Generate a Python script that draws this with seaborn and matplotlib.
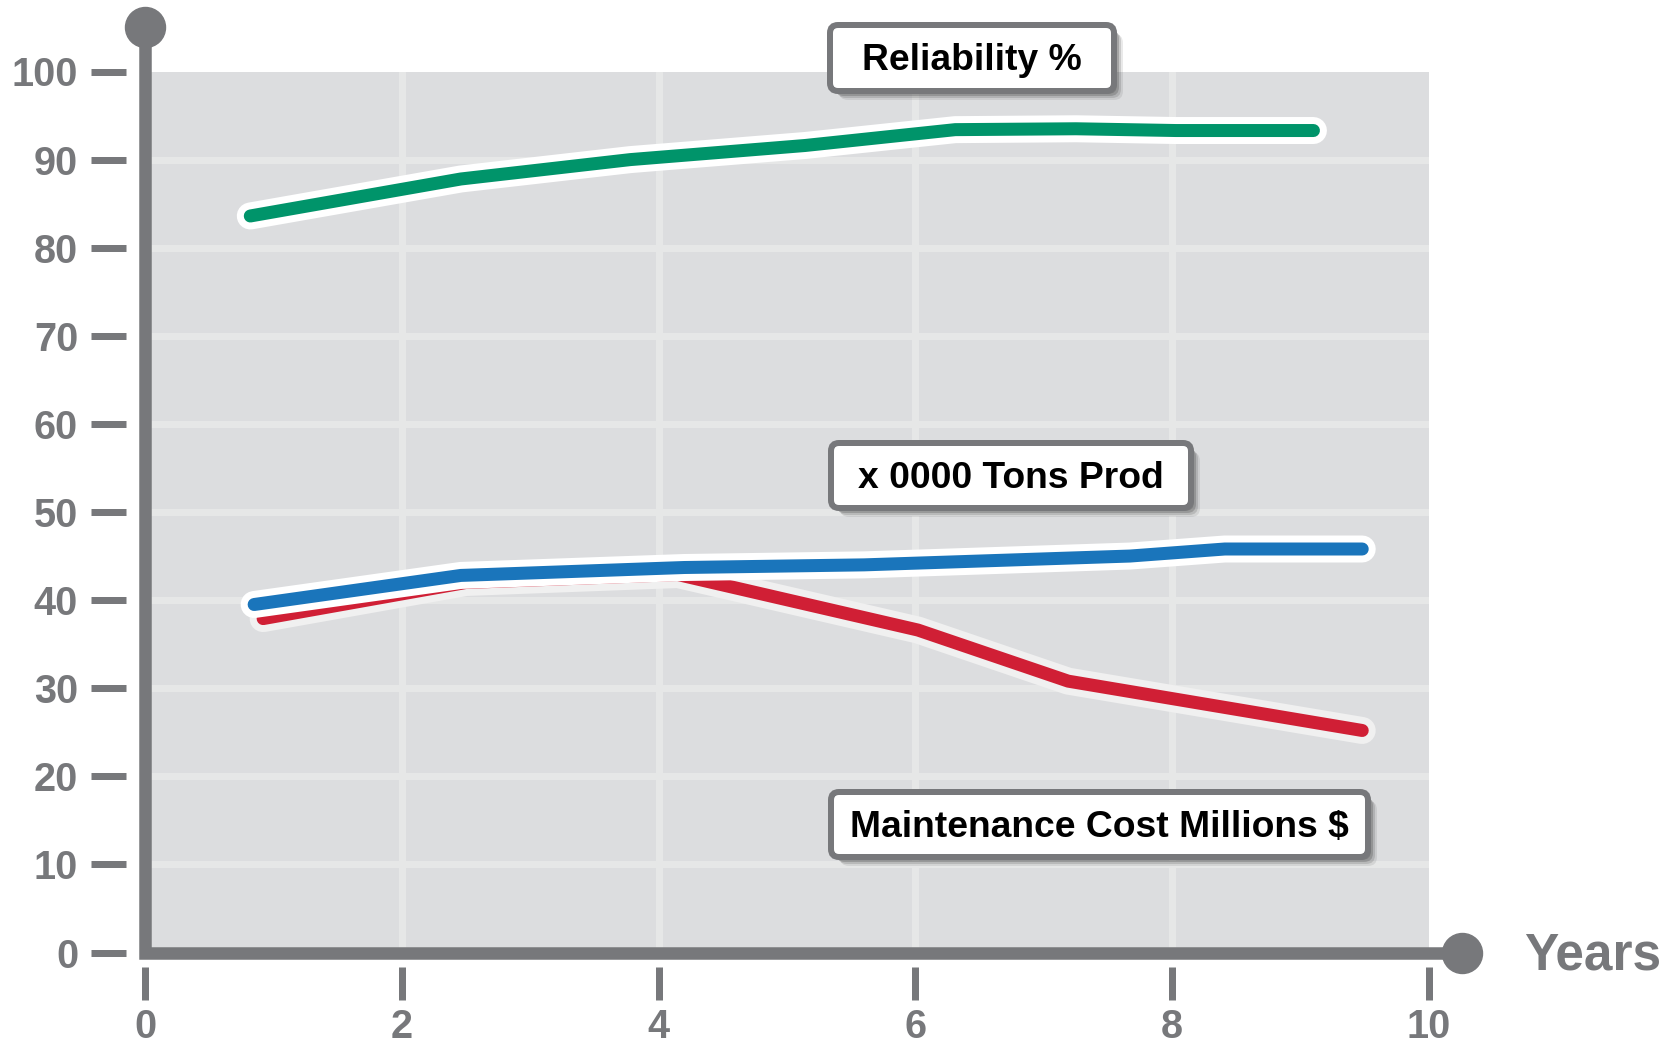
import matplotlib
matplotlib.use("Agg")
import matplotlib.pyplot as plt
import matplotlib.patheffects as pe
from matplotlib.patches import FancyBboxPatch
import pandas as pd
import seaborn as sns

# ---- data -------------------------------------------------------------
reliability_years = [0.82, 2.46, 3.78, 5.14, 6.31, 7.25, 8.03, 9.10]
reliability_pct = [83.6, 87.8, 90.0, 91.6, 93.4, 93.5, 93.3, 93.3]

production_years = [0.85, 2.46, 4.20, 5.60, 7.67, 8.41, 9.48]
production_tons = [39.5, 42.8, 43.7, 44.0, 45.0, 45.8, 45.8]

cost_years = [0.92, 2.50, 4.15, 6.02, 7.19, 9.48]
cost_millions = [37.9, 42.0, 42.9, 36.6, 30.8, 25.2]

x_ticks = [0, 2, 4, 6, 8, 10]
y_ticks = [0, 10, 20, 30, 40, 50, 60, 70, 80, 90, 100]

series_labels = ["Reliability %", "x 0000 Tons Prod", "Maintenance Cost Millions $"]
x_axis_label = "Years"

# ---- style ------------------------------------------------------------
GREEN = "#00946a"
BLUE = "#1a75bb"
RED = "#d01f35"
GRAY = "#77787b"
PANEL = "#dcdddf"
GRID = "#e6e7e7"

sns.set_theme(style="white")
plt.rcParams["font.family"] = ["Liberation Sans", "DejaVu Sans"]
plt.rcParams["font.weight"] = "bold"

W, H, DPI = 1673, 1043, 100
PT = 72.0 / DPI  # points per pixel

fig = plt.figure(figsize=(W / DPI, H / DPI), dpi=DPI, facecolor="white")
x_left, x_right, y_top, y_bottom = 145, 1429, 71.5, 952.5
ax = fig.add_axes([x_left / W, 1 - y_bottom / H,
                   (x_right - x_left) / W, (y_bottom - y_top) / H])
ax.set_facecolor(PANEL)
ax.set_xlim(0, 10)
ax.set_ylim(0, 100)

# light grid inside the panel
for v in y_ticks[1:-1]:
    ax.axhline(v, color=GRID, lw=7 * PT, zorder=1)
for v in x_ticks[1:-1]:
    ax.axvline(v, color=GRID, lw=7 * PT, zorder=1)

# detached tick dashes and labels
for side in ["top", "right", "left", "bottom"]:
    ax.spines[side].set_visible(False)
ax.spines["left"].set_position(("outward", 19 * PT))
ax.spines["bottom"].set_position(("outward", 14 * PT))
ax.set_xticks(x_ticks)
ax.set_yticks(y_ticks)
ax.tick_params(axis="y", left=True, direction="out", length=35 * PT,
               width=7 * PT, color=GRAY, pad=13 * PT, labelsize=28.5,
               labelcolor=GRAY)
ax.tick_params(axis="x", bottom=True, direction="out", length=33 * PT,
               width=7 * PT, color=GRAY, pad=8 * PT, labelsize=28.5,
               labelcolor=GRAY)
for lbl in ax.get_xticklabels() + ax.get_yticklabels():
    lbl.set_fontweight("bold")

# heavy axis lines ending in round knobs
ax.plot([0, 0, 10.26], [105.0, 0, 0], color=GRAY, lw=12.5 * PT,
        solid_joinstyle="miter", solid_capstyle="butt", clip_on=False, zorder=6)
ax.plot([0, 10.26], [105.0, 0], "o", ms=40 * PT, color=GRAY,
        clip_on=False, zorder=7)

# ---- series -----------------------------------------------------------
def draw_series(xs, ys, color, halo):
    df = pd.DataFrame({"Year": xs, "Value": ys})
    sns.lineplot(data=df, x="Year", y="Value", ax=ax, color=color,
                 linewidth=13 * PT, estimator=None, sort=False,
                 solid_capstyle="round", solid_joinstyle="round",
                 path_effects=[pe.Stroke(linewidth=27 * PT, foreground=halo),
                               pe.Normal()],
                 zorder=4)

draw_series(reliability_years, reliability_pct, GREEN, "white")
draw_series(cost_years, cost_millions, RED, "#f0f0f0")
draw_series(production_years, production_tons, BLUE, "white")
ax.set_xlabel("")
ax.set_ylabel("")

# ---- label boxes ------------------------------------------------------
def label_box(text, x0, y0, x1, y1, baseline):
    # pixel coordinates measured from the top-left corner of the figure
    bw = 6
    bx, by = (x0 + bw / 2) / DPI, (H - (y1 - bw / 2)) / DPI
    w, h = (x1 - x0 - bw) / DPI, (y1 - y0 - bw) / DPI
    for off, alpha in [(9, 0.12), (7, 0.2), (5, 0.3), (3, 0.3)]:
        fig.add_artist(FancyBboxPatch(
            (bx + off / DPI, by - off / DPI), w, h,
            boxstyle="round,pad=0,rounding_size=0.09",
            transform=fig.dpi_scale_trans, fc="#505050", ec="none",
            alpha=alpha, zorder=8))
    fig.add_artist(FancyBboxPatch(
        (bx, by), w, h, boxstyle="round,pad=0,rounding_size=0.08",
        transform=fig.dpi_scale_trans, fc="white", ec=GRAY,
        lw=bw * PT, zorder=9))
    fig.text((x0 + x1) / 2 / W, 1 - baseline / H, text, ha="center",
             va="baseline", fontsize=26.8, fontweight="bold",
             color="black", zorder=10)

label_box(series_labels[0], 827, 22, 1117, 94, 70)
label_box(series_labels[1], 828, 440, 1194, 511, 488)
label_box(series_labels[2], 828, 789, 1371, 860, 837)

fig.text(1524 / W, 1 - 970 / H, x_axis_label, ha="left", va="baseline",
         fontsize=37, fontweight="bold", color=GRAY)

fig.savefig("out.png", dpi=DPI, facecolor="white")
